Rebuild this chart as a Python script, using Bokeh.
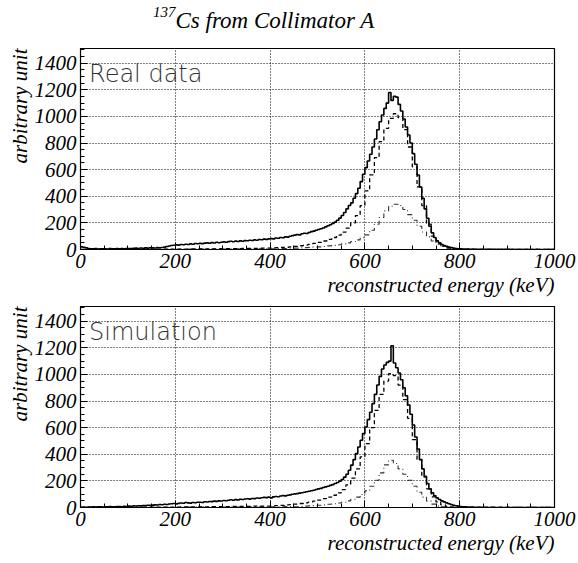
import numpy as np
from bokeh.plotting import figure
from bokeh.models import Range1d, SingleIntervalTicker, Title, Div
from bokeh.core.properties import value
from bokeh.embed import file_html
from bokeh.resources import INLINE

# ---------------- data ----------------
edges_fine = np.arange(0, 1001, 5)      # 5 keV bins (totals)
edges_coarse = np.arange(0, 1001, 10)   # 10 keV bins (components)

real_total = [
    20, 16, 12, 8, 6, 5, 7, 4, 6, 5, 6, 4, 7, 5, 6, 8, 5, 7, 6, 8,
    8, 7, 9, 10, 8, 11, 9, 12, 10, 13, 12, 11, 14, 13, 15, 18, 22, 26, 30, 32,
    35, 33, 38, 36, 40, 37, 42, 40, 45, 43, 46, 44, 48, 50, 47, 52, 49, 54, 51, 55,
    57, 54, 59, 62, 58, 63, 60, 65, 62, 67, 66, 70, 68, 72, 70, 75, 73, 78, 76, 80,
    82, 80, 86, 84, 90, 88, 95, 93, 100, 104, 108, 112, 110, 118, 122, 120, 128, 134, 138, 145,
    150, 156, 162, 170, 178, 186, 196, 206, 220, 236, 255, 278, 305, 330, 350, 385, 420, 460, 510, 565,
    615, 665, 715, 770, 830, 900, 960, 1010, 1060, 1100, 1180, 1120, 1150, 1145, 1090, 1040, 980, 920, 860, 800,
    720, 640, 560, 470, 385, 305, 235, 175, 125, 90, 65, 50, 38, 30, 24, 18, 14, 10, 8, 6,
    5, 4, 3, 4, 2, 3, 2, 2, 1, 2, 1, 1, 2, 1, 1, 0, 1, 1, 0, 1,
    1, 0, 1, 0, 0, 1, 0, 0, 1, 0, 0, 0, 1, 0, 0, 0, 0, 1, 0, 0,
]
real_main = [
    0, 0, 0, 0, 0, 1, 0, 1, 1, 1,
    1, 1, 1, 2, 1, 2, 2, 2, 2, 3,
    3, 3, 3, 4, 4, 4, 5, 5, 5, 6,
    6, 6, 7, 7, 8, 8, 9, 9, 10, 11,
    12, 13, 15, 17, 20, 24, 28, 33, 39, 46,
    54, 64, 76, 90, 108, 130, 160, 200, 255, 330,
    440, 560, 690, 810, 910, 985, 1020, 990, 900, 770,
    620, 470, 330, 190, 100, 50, 25, 12, 6, 3,
    1, 1, 0, 0, 0, 0, 0, 0, 0, 0,
    0, 0, 0, 0, 0, 0, 0, 0, 0, 0,
]
real_second = [
    0, 0, 0, 0, 0, 0, 1, 0, 1, 1,
    1, 1, 1, 1, 2, 1, 2, 2, 2, 2,
    2, 3, 2, 3, 3, 3, 3, 4, 3, 4,
    4, 4, 4, 5, 4, 5, 5, 5, 6, 5,
    5, 6, 7, 8, 9, 10, 12, 14, 16, 18,
    20, 23, 27, 31, 36, 42, 50, 60, 72, 88,
    110, 145, 190, 240, 290, 325, 340, 330, 300, 262,
    220, 175, 132, 95, 64, 40, 23, 12, 6, 3,
    1, 1, 0, 0, 0, 0, 0, 0, 0, 0,
    0, 0, 0, 0, 0, 0, 0, 0, 0, 0,
]
sim_total = [
    2, 3, 2, 4, 3, 5, 4, 6, 5, 4, 6, 5, 7, 6, 5, 8, 7, 6, 9, 8,
    10, 9, 12, 11, 13, 12, 15, 14, 17, 16, 18, 20, 19, 22, 21, 24, 23, 26, 28, 30,
    27, 31, 34, 32, 38, 35, 33, 37, 36, 39, 40, 38, 43, 41, 45, 44, 48, 46, 50, 49,
    53, 51, 55, 58, 54, 59, 57, 62, 60, 64, 66, 63, 68, 67, 71, 69, 73, 76, 74, 78,
    72, 80, 83, 81, 86, 89, 87, 92, 95, 99, 102, 104, 108, 111, 115, 118, 122, 126, 130, 135,
    140, 144, 150, 155, 160, 166, 172, 180, 188, 198, 210, 228, 250, 280, 318, 360, 405, 455, 505, 555,
    605, 660, 715, 780, 850, 920, 985, 1040, 1070, 1090, 1100, 1215, 1085, 1050, 1010, 960, 900, 840, 770, 700,
    620, 530, 440, 360, 290, 230, 180, 140, 110, 88, 72, 60, 50, 42, 35, 28, 22, 17, 13, 10,
    8, 6, 5, 4, 3, 3, 2, 2, 2, 1, 1, 1, 0, 1, 1, 0, 0, 1, 0, 0,
    1, 0, 0, 0, 1, 0, 0, 0, 0, 0, 1, 0, 0, 0, 0, 0, 1, 0, 0, 0,
]
sim_main = [
    0, 0, 0, 0, 1, 0, 1, 1, 1, 1,
    1, 2, 1, 2, 2, 2, 3, 2, 3, 3,
    3, 4, 4, 4, 5, 5, 5, 6, 6, 6,
    7, 7, 8, 8, 9, 9, 10, 10, 11, 11,
    12, 14, 16, 19, 22, 26, 30, 35, 41, 48,
    56, 66, 78, 92, 110, 135, 170, 220, 290, 380,
    480, 600, 730, 850, 950, 1005, 990, 920, 810, 670,
    510, 360, 235, 140, 80, 42, 20, 9, 4, 2,
    1, 1, 0, 0, 0, 0, 0, 0, 0, 0,
    0, 0, 0, 0, 0, 0, 0, 0, 0, 0,
]
sim_second = [
    0, 0, 0, 0, 0, 1, 0, 1, 1, 1,
    1, 1, 1, 2, 1, 2, 2, 2, 2, 2,
    2, 3, 3, 3, 3, 3, 4, 3, 4, 4,
    4, 4, 5, 4, 5, 5, 5, 5, 6, 6,
    5, 6, 6, 7, 8, 6, 8, 10, 12, 14,
    17, 20, 24, 28, 34, 40, 50, 62, 78, 98,
    125, 160, 205, 260, 320, 355, 330, 290, 250, 205,
    160, 115, 78, 48, 25, 12, 5, 2, 1, 0,
    0, 0, 0, 0, 0, 0, 0, 0, 0, 0,
    0, 0, 0, 0, 0, 0, 0, 0, 0, 0,
]

title_sup = "137"
title_main = "Cs from Collimator A"
panel_labels = ["Real data", "Simulation"]
x_label = "reconstructed energy (keV)"
y_label = "arbitrary unit"

SERIF = "Liberation Serif"
LABEL_FONT = "DejaVu Sans Light"


def hist_xy(edges, vals):
    return list(edges), list(vals) + [vals[-1]]


def make_title():
    html = ('<span style="font-size:15px;position:relative;top:-11px;">%s</span>%s'
            % (title_sup, title_main))
    return Div(text=html, width=578, height=40,
               styles={"font-family": "'Liberation Serif', 'Times New Roman', serif",
                       "font-style": "italic", "font-size": "23px", "line-height": "23px",
                       "padding-left": "153px", "padding-top": "9px", "color": "black",
                       "margin": "0", "box-sizing": "border-box", "white-space": "nowrap"})


def make_panel(total, main, second, label, top_b, bot_b):
    p = figure(frame_width=474, frame_height=201, x_range=Range1d(0, 1000), y_range=Range1d(0, 1510),
               toolbar_location=None, output_backend="svg",
               min_border_left=80, min_border_right=24, min_border_top=top_b, min_border_bottom=bot_b)
    p.outline_line_color = "black"
    p.outline_line_width = 1.2

    p.xaxis.ticker = SingleIntervalTicker(interval=200, num_minor_ticks=4)
    p.yaxis.ticker = SingleIntervalTicker(interval=200, num_minor_ticks=4)
    for ax in (p.xaxis, p.yaxis):
        ax.major_tick_in = 7
        ax.major_tick_out = 0
        ax.minor_tick_in = 4
        ax.minor_tick_out = 0
        ax.axis_line_color = "black"
        ax.major_tick_line_color = "black"
        ax.minor_tick_line_color = "black"
        ax.major_label_text_font = SERIF
        ax.major_label_text_font_style = "italic"
        ax.major_label_text_font_size = "21px"
        ax.major_label_text_color = "black"
        ax.major_label_standoff = 4

    for g in (p.xgrid, p.ygrid):
        g.grid_line_color = "black"
        g.grid_line_dash = "1 2"
        g.grid_line_width = 1
        g.grid_line_alpha = 1.0

    x, y = hist_xy(edges_coarse, second)
    p.step(x, y, mode="after", line_color="black", line_width=1.1, line_dash="5 3 1 3", line_alpha=0.8)
    x, y = hist_xy(edges_coarse, main)
    p.step(x, y, mode="after", line_color="black", line_width=1.3, line_dash="4 3")
    x, y = hist_xy(edges_fine, total)
    p.step(x, y, mode="after", line_color="black", line_width=1.6)

    p.text(x=[18], y=[1320], text=[label], text_font=value(LABEL_FONT), text_font_size="24px",
           text_color="#333333", text_baseline="middle", text_align="left")

    p.add_layout(Title(text=x_label, align="right", text_font=SERIF, text_font_style="italic",
                       text_font_size="21px", text_color="black", standoff=0), "below")
    p.add_layout(Title(text=y_label, align="right", text_font=SERIF, text_font_style="italic",
                       text_font_size="21px", text_color="black", standoff=0), "left")
    return p


t = make_title()
p1 = make_panel(real_total, real_main, real_second, panel_labels[0], 8, 51)
p2 = make_panel(sim_total, sim_main, sim_second, panel_labels[1], 6, 56)

open("out.html", "w").write(file_html([t, p1, p2], INLINE))
